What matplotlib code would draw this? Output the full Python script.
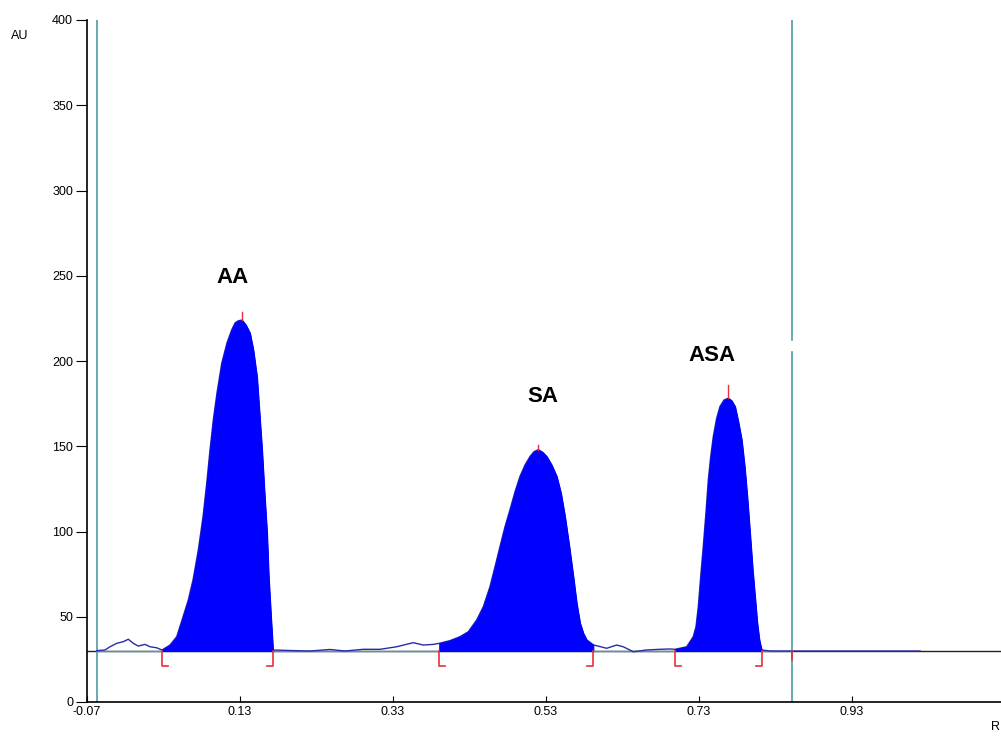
import numpy as np
import matplotlib
matplotlib.use('Agg')
import matplotlib.pyplot as plt

plt.rcParams['font.family'] = ['Liberation Sans', 'DejaVu Sans']

# densitometric trace (Rf, AU)
trace_x = [-0.0573, -0.0465, -0.0399, -0.0312, -0.0225, -0.016, -0.0095, -0.0029,
           0.0058, 0.0124, 0.0211,
           # AA
           0.028, 0.0385, 0.0473, 0.0555, 0.0624, 0.0686, 0.0755, 0.0816, 0.0865,
           0.0908, 0.0951, 0.0999, 0.1061, 0.113, 0.1191, 0.1235, 0.1278, 0.1326,
           0.1377, 0.143, 0.1474, 0.1522, 0.1552, 0.1588, 0.1618, 0.1653, 0.1675,
           0.1705, 0.1731,
           0.1954, 0.2215, 0.2476, 0.2673, 0.2908, 0.313, 0.3348, 0.3565, 0.3696, 0.3827,
           # SA
           0.3905, 0.4045, 0.4176, 0.4284, 0.4394, 0.4481, 0.4568, 0.4634, 0.4699,
           0.4764, 0.4829, 0.4895, 0.496, 0.5026, 0.5091, 0.5143, 0.52, 0.5257,
           0.5309, 0.5374, 0.544, 0.5496, 0.5548, 0.5605, 0.5657, 0.5701, 0.5745,
           0.5788, 0.5832, 0.5918,
           0.6093, 0.6224, 0.631, 0.6441, 0.6616, 0.679, 0.6921,
           # ASA
           0.6986, 0.7139, 0.7225, 0.7261, 0.7291, 0.7322, 0.7356, 0.7392, 0.7422,
           0.7453, 0.7487, 0.7531, 0.7574, 0.7627, 0.7683, 0.7727, 0.7771, 0.7814,
           0.7858, 0.7897, 0.7931, 0.7967, 0.8002, 0.8032, 0.8062, 0.8089, 0.8119,
           0.823, 1.019]
trace_y = [30.1, 30.5, 32.4, 34.4, 35.4, 36.8, 34.4, 32.8,
           33.8, 32.4, 31.8,
           30.5, 33.4, 38.3, 49.9, 59.8, 71.6, 89.1, 108.5, 128.3,
           147.8, 165.4, 181.2, 198.6, 210.6, 218.2, 222.3, 223.6, 224.0,
           221.1, 216.4, 206.5, 190.6, 171.3, 147.8, 124.3, 99.1, 73.5,
           49.9, 30.5,
           30.2, 29.9, 30.8, 29.9, 30.9, 30.9, 32.4, 34.8, 33.4, 33.8,
           34.4, 36.0, 38.3, 41.2, 48.1, 55.9, 67.7, 79.4, 91.2,
           102.8, 112.7, 123.3, 132.3, 139.0, 144.0, 146.8, 148.0, 146.4,
           144.0, 139.0, 132.3, 122.4, 108.8, 91.1, 73.6, 57.9, 46.3,
           40.3, 36.4, 33.5,
           31.5, 33.4, 32.4, 29.5, 30.5, 30.9, 31.1,
           30.9, 32.4, 38.3, 44.2, 55.9, 73.5, 91.2, 111.6, 130.3,
           143.9, 155.7, 166.4, 173.3, 177.1, 178.2, 176.7, 173.3, 164.4,
           153.8, 138.0, 120.4, 98.9, 77.4, 61.8, 46.1, 36.4, 30.5,
           29.9, 29.9]

peak_names = ['AA', 'SA', 'ASA']
peak_start = [0.028, 0.3905, 0.6986]
peak_end = [0.1731, 0.5918, 0.8119]
peak_apex_x = [0.1326, 0.52, 0.7683]
peak_apex_y = [224.0, 148.0, 178.2]
label_x = [0.1197, 0.526, 0.747]
label_y = [249, 179, 203.5]

baseline = 30
front_x = [-0.057, 0.852]
yticks = [0, 50, 100, 150, 200, 250, 300, 350, 400]
xticks = [-0.07, 0.13, 0.33, 0.53, 0.73, 0.93]

fig = plt.figure(figsize=(10.01, 7.37), dpi=100)
ax = fig.add_axes([87 / 1001, 1 - 702 / 737, 1 - 87 / 1001, (702 - 20) / 737])
ax.set_xlim(-0.07, 1.1248)
ax.set_ylim(0, 400)

teal = '#4f9aa6'
# baseline lines
ax.axhline(baseline, color='#222222', lw=1, zorder=1)
ax.plot([front_x[0], front_x[1]], [baseline, baseline], color=teal, lw=1, zorder=2)

# start / front lines
ax.plot([front_x[0], front_x[0]], [0, 400], color=teal, lw=1.2, zorder=2)
ax.plot([front_x[1], front_x[1]], [0, 205.3], color=teal, lw=1.2, zorder=2)
ax.plot([front_x[1], front_x[1]], [212.3, 400], color=teal, lw=1.2, zorder=2)
ax.plot([front_x[1], front_x[1]], [baseline, 24.5], color='#e03030', lw=1.2, zorder=4)

tx = np.array(trace_x)
ty = np.array(trace_y)
ax.plot(tx, ty, color='#2a2aa8', lw=1, zorder=3)
for s, e in zip(peak_start, peak_end):
    m = (tx >= s) & (tx <= e)
    ax.fill_between(tx[m], ty[m], baseline, color='#0000ff', lw=0.8, zorder=3)

# integration markers
red = '#e8303a'
tick_w = 0.0078
apex_mark = [5, 3, 8]
for s, e, px, py, h, name, lx, ly in zip(peak_start, peak_end, peak_apex_x, peak_apex_y,
                                          apex_mark, peak_names, label_x, label_y):
    ax.plot([s, s, s + tick_w], [baseline, 21, 21], color=red, lw=1.2, zorder=4)
    ax.plot([e, e, e - tick_w], [baseline, 21, 21], color=red, lw=1.2, zorder=4)
    ax.plot([px, px], [py, py + h], color=red, lw=1, zorder=4)
    ax.text(lx, ly, name, ha='center', va='center', fontsize=16, fontweight='bold')

ax.spines['top'].set_visible(False)
ax.spines['right'].set_visible(False)
ax.spines['left'].set_linewidth(1.2)
ax.spines['bottom'].set_linewidth(1.2)
ax.set_yticks(yticks)
ax.set_xticks(xticks)
ax.set_xticklabels(['%.2f' % v for v in xticks])
ax.tick_params(axis='y', direction='out', length=8, labelsize=9, pad=2)
ax.tick_params(axis='x', direction='in', length=4, labelsize=9, pad=3)

fig.text(20 / 1001, 1 - 36 / 737, 'AU', ha='center', va='center', fontsize=9)
fig.text(995 / 1001, 1 - 727 / 737, 'R', ha='center', va='center', fontsize=9)

fig.savefig('out.png', dpi=100)
